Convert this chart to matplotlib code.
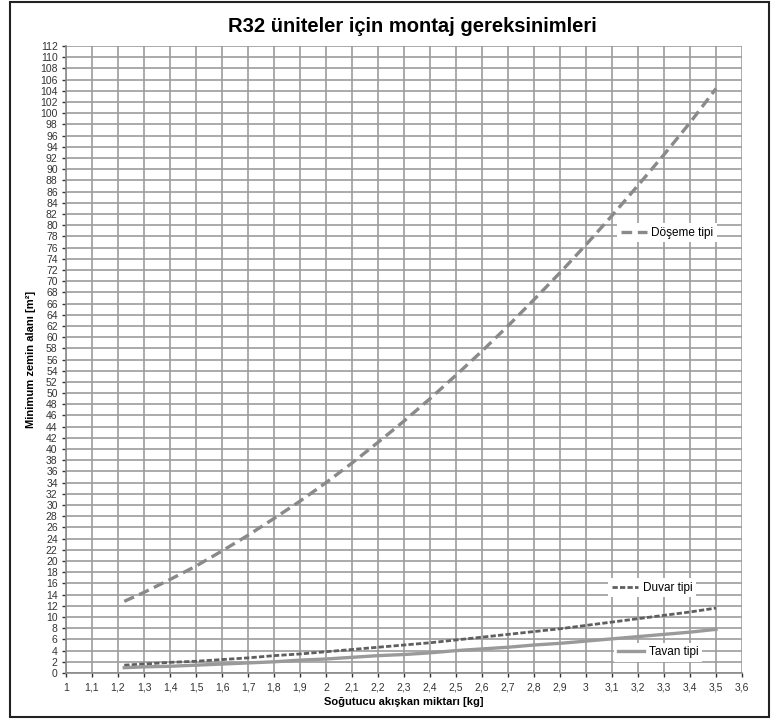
import matplotlib
matplotlib.use("Agg")
from matplotlib import pyplot as plt
from matplotlib.patches import Rectangle

# refrigerant charge [kg]
charge = [1.224, 1.3, 1.4, 1.5, 1.6, 1.7, 1.8, 1.9, 2.0, 2.1, 2.2, 2.3,
          2.4, 2.5, 2.6, 2.7, 2.8, 2.9, 3.0, 3.1, 3.2, 3.3, 3.4, 3.5]

# minimum floor area [m2]
doseme = [12.8, 14.4, 16.7, 19.1, 21.8, 24.6, 27.6, 30.7, 34.0, 37.5, 41.2, 45.0,
          49.0, 53.2, 57.5, 62.0, 66.7, 71.5, 76.5, 81.7, 87.1, 92.6, 98.3, 104.4]
duvar = [1.4, 1.6, 1.9, 2.1, 2.4, 2.7, 3.1, 3.4, 3.8, 4.2, 4.6, 5.0,
         5.4, 5.9, 6.4, 6.9, 7.4, 7.9, 8.5, 9.1, 9.7, 10.3, 10.9, 11.6]
tavan = [0.95, 1.1, 1.2, 1.4, 1.6, 1.8, 2.0, 2.3, 2.5, 2.8, 3.1, 3.3,
         3.6, 4.0, 4.3, 4.6, 5.0, 5.3, 5.7, 6.1, 6.5, 6.9, 7.3, 7.8]

x_ticks = [1.0, 1.1, 1.2, 1.3, 1.4, 1.5, 1.6, 1.7, 1.8, 1.9, 2.0, 2.1, 2.2, 2.3,
           2.4, 2.5, 2.6, 2.7, 2.8, 2.9, 3.0, 3.1, 3.2, 3.3, 3.4, 3.5, 3.6]
y_ticks = list(range(0, 113, 2))

plt.rcParams['font.family'] = ['Liberation Sans', 'DejaVu Sans']

fig = plt.figure(figsize=(7.76, 7.19), dpi=100)
ax = fig.add_axes([66/776, 1 - 673/719, 676/776, 627/719])

# outer frame
fig.patches.append(Rectangle((10/776, 2/719), 759/776, 715/719, transform=fig.transFigure,
                             fill=False, edgecolor="#222222", linewidth=1.5))

l1, = ax.plot(charge, doseme, color="#8a8a8a", linewidth=2.4, dashes=(3.2, 1.7), label="Döşeme tipi")
l2, = ax.plot(charge, duvar, color="#5f5f5f", linewidth=2.0, dashes=(1.9, 0.8), label="Duvar tipi")
l3, = ax.plot(charge, tavan, color="#9a9a9a", linewidth=2.4, label="Tavan tipi")

ax.set_xlim(1.0, 3.6)
ax.set_ylim(0, 112)
ax.set_xticks(x_ticks)
ax.set_xticklabels([("%g" % v).replace(".", ",") for v in x_ticks])
ax.set_yticks(y_ticks)
ax.set_yticklabels([str(v) for v in y_ticks])
ax.tick_params(labelsize=7.5, colors="#333333", length=3, width=1, pad=3)
ax.tick_params(axis="x", pad=4)
for t in ax.get_xticklines() + ax.get_yticklines():
    t.set_color("#8a8a8a")

ax.grid(True, color="#9c9c9c", linewidth=1.2)
ax.set_axisbelow(True)
for s in ["top", "right"]:
    ax.spines[s].set_visible(False)
for s in ["left", "bottom"]:
    ax.spines[s].set_color("#8a8a8a")
    ax.spines[s].set_linewidth(1.2)

ax.set_xlabel("Soğutucu akışkan miktarı [kg]", fontsize=8, fontweight="bold", labelpad=3)
ax.set_ylabel("Minimum zemin alanı [m²]", fontsize=8, fontweight="bold", labelpad=3)
fig.text(412/776, 1 - 27/719, "R32 üniteler için montaj gereksinimleri", ha="center", va="center",
         fontsize=14.5, fontweight="bold")

for line, pos in [(l1, (0.889, 0.702)), (l2, (0.867, 0.136)), (l3, (0.876, 0.033))]:
    leg = ax.legend(handles=[line], loc="center", bbox_to_anchor=pos, frameon=True,
                    facecolor="white", edgecolor="none", framealpha=1, fontsize=8.5,
                    handlelength=2.2, handletextpad=0.4, borderpad=0.3, fancybox=False)
    ax.add_artist(leg)

fig.savefig("out.png", dpi=100)
